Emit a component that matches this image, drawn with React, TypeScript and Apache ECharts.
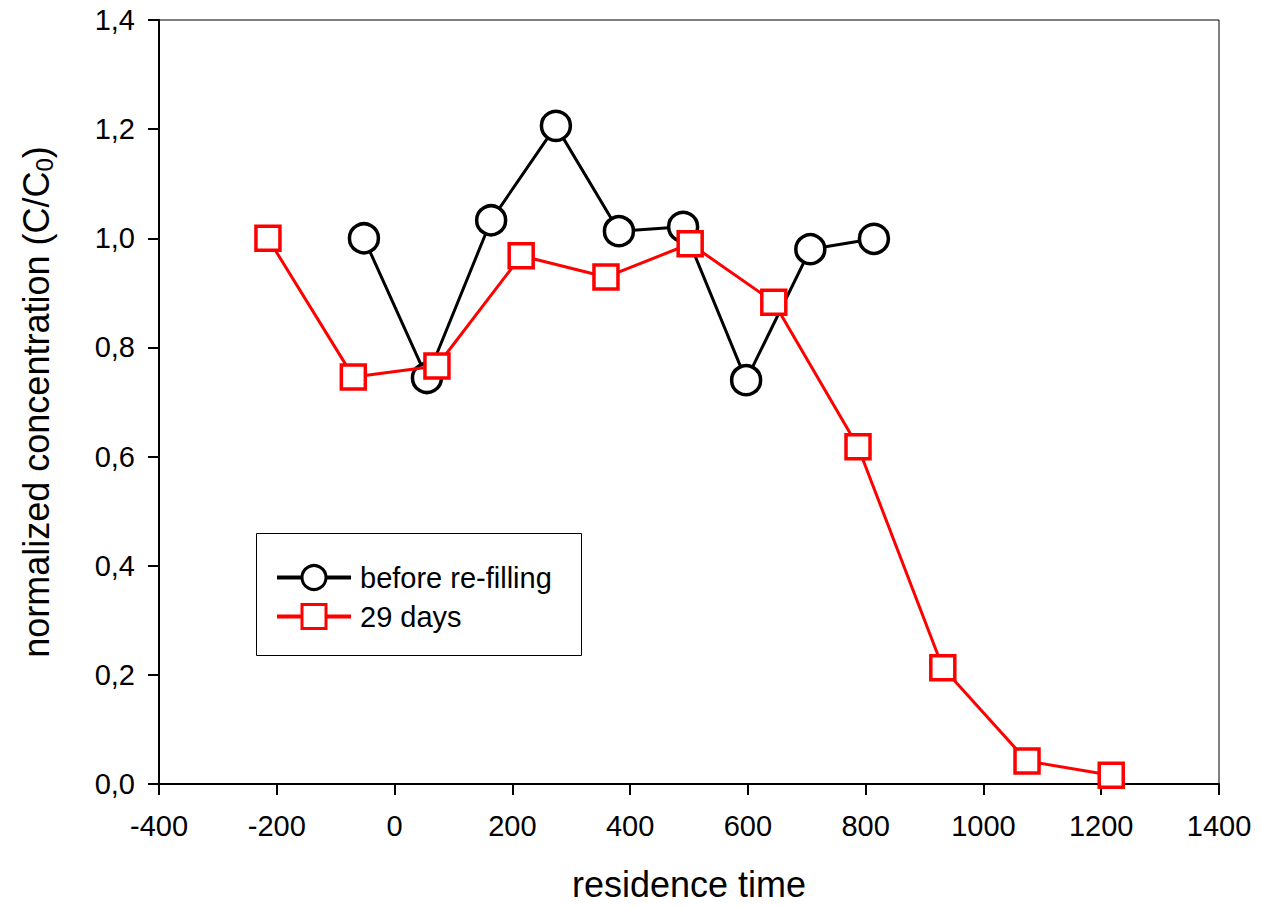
import React, { useEffect, useRef } from "react";
import * as echarts from "echarts";

const beforeX = [-52, 55, 164, 274, 381, 490, 597, 706, 814];
const beforeY = [1.0, 0.744, 1.033, 1.206, 1.013, 1.021, 0.74, 0.98, 0.999];
const daysX = [-215, -70, 72, 215, 359, 502, 644, 787, 931, 1074, 1217];
const daysY = [1.0, 0.746, 0.766, 0.968, 0.929, 0.99, 0.883, 0.618, 0.213, 0.042, 0.016];
const seriesNames = ["before re-filling", "29 days"];
const xTitle = "residence time";

const FONT = "Liberation Sans, Arial, sans-serif";

export default function App() {
  const ref = useRef<HTMLDivElement>(null);
  useEffect(() => {
    const chart = echarts.init(ref.current!, null, { renderer: "svg" });
    chart.setOption({
      animation: false,
      backgroundColor: "#fff",
      textStyle: { fontFamily: FONT },
      grid: {
        left: 159,
        right: 43,
        top: 20,
        bottom: 123,
        show: true,
        borderColor: "#000",
        borderWidth: 1,
      },
      xAxis: {
        type: "value",
        min: -400,
        max: 1400,
        interval: 200,
        name: xTitle,
        nameLocation: "middle",
        nameGap: 82,
        nameTextStyle: { fontSize: 36, color: "#000", fontFamily: FONT },
        axisLine: { show: true, onZero: false, lineStyle: { color: "#000", width: 2 } },
        axisTick: { show: true, inside: false, length: 11, lineStyle: { color: "#000", width: 2 } },
        axisLabel: {
          fontSize: 29,
          color: "#000",
          margin: 27,
          fontFamily: FONT,
          formatter: (v: number) => String(v),
        },
        splitLine: { show: false },
      },
      yAxis: {
        type: "value",
        min: 0,
        max: 1.4,
        interval: 0.2,
        name: "normalized concentration (C/C{sub|0})",
        nameLocation: "middle",
        nameGap: 103,
        nameTextStyle: {
          fontSize: 36,
          color: "#000",
          fontFamily: FONT,
          rich: {
            sub: { fontSize: 24, color: "#000", fontFamily: FONT, verticalAlign: "bottom", padding: [16, 0, 0, 0] },
          },
        },
        axisLine: { show: true, onZero: false, lineStyle: { color: "#000", width: 2 } },
        axisTick: { show: true, inside: false, length: 11, lineStyle: { color: "#000", width: 2 } },
        axisLabel: {
          fontSize: 29,
          color: "#000",
          margin: 24,
          fontFamily: FONT,
          formatter: (v: number) => v.toFixed(1).replace(".", ","),
        },
        splitLine: { show: false },
      },
      legend: {
        orient: "vertical",
        left: 270,
        top: 558,
        itemWidth: 74,
        itemHeight: 30,
        itemGap: 10,
        itemStyle: { borderWidth: 3 },
        lineStyle: { width: 4 },
        textStyle: { fontSize: 29, color: "#000", fontFamily: FONT, padding: [0, 0, 0, 4] },
        data: seriesNames,
      },
      graphic: [
        {
          type: "rect",
          shape: { x: 256.5, y: 533.5, width: 325, height: 122 },
          style: { fill: "none", stroke: "#000", lineWidth: 1 },
          z: 100,
        },
      ],
      series: [
        {
          name: seriesNames[0],
          type: "line",
          data: beforeX.map((x, i) => [x, beforeY[i]]),
          symbol: "circle",
          symbolSize: 29,
          lineStyle: { color: "#000", width: 3 },
          itemStyle: { color: "#fff", borderColor: "#000", borderWidth: 3.5 },
          z: 3,
        },
        {
          name: seriesNames[1],
          type: "line",
          data: daysX.map((x, i) => [x, daysY[i]]),
          symbol: "rect",
          symbolSize: 24,
          lineStyle: { color: "#ff0000", width: 3 },
          itemStyle: { color: "#fff", borderColor: "#ff0000", borderWidth: 3.5 },
          z: 4,
        },
      ],
    });
    return () => chart.dispose();
  }, []);
  return (
    <div
      ref={ref}
      style={{ position: "absolute", left: 0, top: 0, width: 1262, height: 907 }}
    />
  );
}
